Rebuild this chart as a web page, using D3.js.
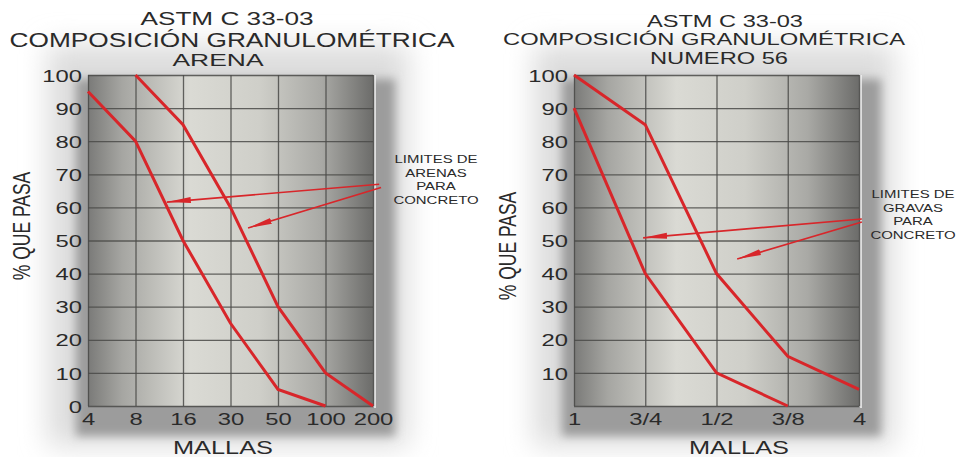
<!DOCTYPE html>
<html>
<head>
<meta charset="utf-8">
<script src="https://cdn.jsdelivr.net/npm/d3@7"></script>
<style>
  html, body { margin: 0; padding: 0; background: #fff; }
  svg { display: block; }
  text { font-family: "Liberation Sans", Arial, sans-serif; fill: #2a2a2a; }
</style>
</head>
<body>
<svg id="chart" width="963" height="457"></svg>
<script>
// ---------- DATA ----------
const arenaMallas = ["4", "8", "16", "30", "50", "100", "200"];
const arenaInferior = [95, 80, 50, 25, 5, 0, null];
const arenaSuperior = [null, 100, 85, 60, 30, 10, 0];

const gravaMallas = ["1", "3/4", "1/2", "3/8", "4"];
const gravaSuperior = [100, 85, 40, 15, 5];
const gravaInferior = [90, 40, 10, 0, null];

const arenaYTicks = [0, 10, 20, 30, 40, 50, 60, 70, 80, 90, 100];
const gravaYTicks = [10, 20, 30, 40, 50, 60, 70, 80, 90, 100];

const arenaTitulo = ["ASTM C 33-03", "COMPOSICIÓN GRANULOMÉTRICA", "ARENA"];
const gravaTitulo = ["ASTM C 33-03", "COMPOSICIÓN GRANULOMÉTRICA", "NUMERO 56"];
const arenaNota = ["LIMITES DE", "ARENAS", "PARA", "CONCRETO"];
const gravaNota = ["LIMITES DE", "GRAVAS", "PARA", "CONCRETO"];
// arrows in data units: [fromIndex, fromValue, toIndex, toValue]
const arenaFlechas = [[6.13, 67, 1.66, 61.6], [6.17, 66, 3.37, 53.8]];
const gravaFlechas = [[4.04, 56.5, 0.97, 50.8], [4.04, 55.6, 2.29, 44.4]];

const ejeX = "MALLAS";
const ejeY = "% QUE PASA";

// ---------- DRAW ----------
const svg = d3.select("#chart");
const defs = svg.append("defs");

const grad = defs.append("linearGradient").attr("id", "bg").attr("x1", "0%").attr("x2", "100%").attr("y1", "0%").attr("y2", "0%");
[[0, "#7a7a78"], [0.12, "#a6a6a2"], [0.36, "#dadad4"], [0.6, "#cfcfc9"], [0.82, "#a9a9a5"], [1, "#6c6c6a"]]
  .forEach(([o, c]) => grad.append("stop").attr("offset", o).attr("stop-color", c));

defs.append("filter").attr("id", "blurBig").attr("x", "-30%").attr("y", "-30%").attr("width", "160%").attr("height", "160%")
  .append("feGaussianBlur").attr("stdDeviation", 14);
defs.append("filter").attr("id", "blurSmall").attr("x", "-30%").attr("y", "-30%").attr("width", "160%").attr("height", "160%")
  .append("feGaussianBlur").attr("stdDeviation", 5);

defs.append("marker").attr("id", "head").attr("markerUnits", "userSpaceOnUse")
  .attr("viewBox", "0 -4 24 8").attr("refX", 24).attr("refY", 0)
  .attr("markerWidth", 24).attr("markerHeight", 8).attr("orient", "auto")
  .append("path").attr("d", "M0,-3 L24,0 L0,3 Z").attr("fill", "#d8262a");

function stretchText(g, x, y, str, size, sx, anchor) {
  return g.append("text")
    .attr("transform", `translate(${x},${y}) scale(${sx},1)`)
    .attr("text-anchor", anchor || "middle")
    .style("font-size", size + "px")
    .text(str);
}

function drawChart(cfg) {
  const g = svg.append("g");
  const [x0, x1] = cfg.xr, [y1, y0] = cfg.yr; // y0 top, y1 bottom
  const x = d3.scaleLinear().domain([0, cfg.mallas.length - 1]).range([x0, x1]);
  const y = d3.scaleLinear().domain([0, 100]).range([y1, y0]);
  const w = x1 - x0, h = y1 - y0;

  // halo and shadow
  g.append("rect").attr("x", x0 - 40).attr("y", y0 - 30).attr("width", w + 75).attr("height", h + 70)
    .attr("fill", "#dcdcdc").attr("filter", "url(#blurBig)");
  g.append("rect").attr("x", x0 - 12).attr("y", y0 + 4).attr("width", w + 34).attr("height", h + 26)
    .attr("fill", "#9c9c9c").attr("filter", "url(#blurSmall)");

  // plot background
  g.append("rect").attr("x", x0).attr("y", y0).attr("width", w).attr("height", h).attr("fill", "url(#bg)");
  g.append("line").attr("x1", x1 + 2).attr("x2", x1 + 2).attr("y1", y0).attr("y2", y1 + 2)
    .attr("stroke", "#f4f4f4").attr("stroke-width", 1.5);

  // grid
  const gx = g.append("g").attr("transform", `translate(0,${y1})`)
    .call(d3.axisBottom(x).tickValues(d3.range(cfg.mallas.length)).tickSize(-h).tickFormat(""));
  const gy = g.append("g").attr("transform", `translate(${x0},0)`)
    .call(d3.axisLeft(y).tickValues(arenaYTicks).tickSize(-w).tickFormat(""));
  [gx, gy].forEach(a => {
    a.select(".domain").remove();
    a.selectAll(".tick line").attr("stroke", "#4a4a48").attr("stroke-width", 1.3).attr("opacity", 0.85);
  });

  // tick labels via axes
  const sx = 1.4;
  const ly = g.append("g").attr("transform", `translate(${x0},0)`)
    .call(d3.axisLeft(y).tickValues(cfg.yTicks).tickSize(0).tickPadding(0));
  ly.select(".domain").remove();
  ly.selectAll(".tick text").attr("x", -cfg.yPad / sx).attr("dy", "0.36em")
    .attr("transform", `scale(${sx},1)`).style("font-size", "17px")
    .style("font-family", '"Liberation Sans", Arial, sans-serif').attr("fill", "#2a2a2a");

  const lx = g.append("g").attr("transform", `translate(0,${y1})`)
    .call(d3.axisBottom(x).tickValues(d3.range(cfg.mallas.length)).tickSize(0).tickPadding(0).tickFormat(i => cfg.mallas[i]));
  lx.select(".domain").remove();
  lx.selectAll(".tick text").attr("y", 19).attr("dy", 0)
    .attr("transform", `scale(${sx},1)`).style("font-size", "17px")
    .style("font-family", '"Liberation Sans", Arial, sans-serif').attr("fill", "#2a2a2a");

  // curves
  const line = d3.line().defined(d => d[1] !== null).x(d => x(d[0])).y(d => y(d[1]));
  cfg.series.forEach(s => {
    g.append("path").datum(s.map((v, i) => [i, v]))
      .attr("d", line).attr("fill", "none")
      .attr("stroke", "#d8262a").attr("stroke-width", 3).attr("stroke-linejoin", "miter");
  });

  // arrows
  cfg.flechas.forEach(f => {
    g.append("line").attr("x1", x(f[0])).attr("y1", y(f[1])).attr("x2", x(f[2])).attr("y2", y(f[3]))
      .attr("stroke", "#d8262a").attr("stroke-width", 1.6).attr("marker-end", "url(#head)");
  });

  // note text
  cfg.nota.forEach((t, i) => stretchText(g, cfg.notaX, cfg.notaY + i * 13.5, t, 11.5, 1.3));

  // titles
  cfg.titulos.forEach(tt => {
    g.append("text").attr("x", tt.x).attr("y", tt.y).attr("text-anchor", "middle")
      .style("font-size", tt.size + "px").attr("textLength", tt.len).attr("lengthAdjust", "spacingAndGlyphs")
      .text(tt.t);
  });

  // axis titles
  stretchText(g, cfg.mallasX, 454, ejeX, 17.5, 1.45);
  g.append("text").attr("transform", `translate(${cfg.yLabX},${cfg.yLabY}) scale(1.4,1) rotate(-90)`)
    .attr("text-anchor", "middle").style("font-size", "17.5px").text(ejeY);
}

drawChart({
  xr: [88, 373], yr: [406, 75], mallas: arenaMallas, yTicks: arenaYTicks, yPad: 6,
  series: [arenaInferior, arenaSuperior], flechas: arenaFlechas,
  nota: arenaNota, notaX: 436, notaY: 163,
  titulos: [
    { t: arenaTitulo[0], x: 227, y: 25, size: 19, len: 173 },
    { t: arenaTitulo[1], x: 232, y: 47, size: 20, len: 445 },
    { t: arenaTitulo[2], x: 218, y: 66, size: 16, len: 91 }
  ],
  mallasX: 223, yLabX: 30, yLabY: 226
});

drawChart({
  xr: [574, 859], yr: [406, 75], mallas: gravaMallas, yTicks: gravaYTicks, yPad: 6,
  series: [gravaSuperior, gravaInferior], flechas: gravaFlechas,
  nota: gravaNota, notaX: 913, notaY: 198,
  titulos: [
    { t: gravaTitulo[0], x: 725, y: 27, size: 17, len: 156 },
    { t: gravaTitulo[1], x: 704, y: 45, size: 16, len: 402 },
    { t: gravaTitulo[2], x: 719, y: 64, size: 17, len: 138 }
  ],
  mallasX: 739, yLabX: 516, yLabY: 246
});
</script>
</body>
</html>
